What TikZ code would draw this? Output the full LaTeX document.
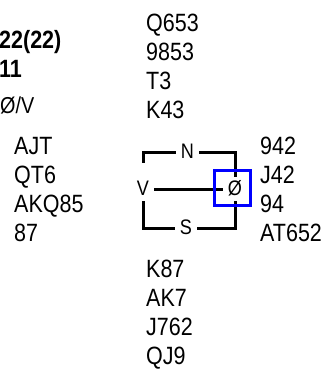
\documentclass[tikz,border=0pt]{standalone}
\usepackage{fontspec}
\setmainfont{Liberation Sans}[FakeStretch=0.86]
\usetikzlibrary{positioning}

\begin{document}
\begin{tikzpicture}[
    x=1pt, y=-1pt,
    hand/.style={anchor=base west, align=left, inner sep=0pt, font=\fontsize{25}{29}\selectfont},
    info/.style={anchor=base west, inner sep=0pt, font=\fontsize{25}{29}\selectfont\bfseries},
    seat/.style={text height=15pt, text depth=3pt, inner xsep=5pt, inner ysep=3pt, font=\fontsize{21}{25}\selectfont},
    dealer/.style={draw=blue, line width=3pt, minimum width=36pt, minimum height=35pt},
    tableline/.style={line width=3pt}
]
\useasboundingbox (0,0) rectangle (328,374);

% Board info
\node[info] (board) at (-1,49) {22(22)};
\node[info] (deal) at (-1,78) {11};
\node[hand, font=\fontsize{23}{27}\selectfont] (vul) at (0,114) {Ø/V};

% Hands (base = last line)
\node[hand] (north) at (146,119) {Q653\\9853\\T3\\K43};
\node[hand] (south) at (146,364) {K87\\AK7\\J762\\QJ9};
\node[hand] (east) at (260,241) {942\\J42\\94\\AT652};
\node[hand] (west) at (14,241) {AJT\\QT6\\AKQ85\\87};

% Table
\node[seat] (n) at (187.5,152) {N};
\node[seat] (s) at (186,228) {S};
\node[seat] (w) at (143,189) {V};
\node[seat] (e) at (235,189) {Ø};

\draw[tableline] (n) -| ([yshift=14pt]w.north);
\draw[tableline] (n) -| (e);
\draw[tableline] (s) -| (w);
\draw[tableline] (s) -| (e);
\draw[tableline] (w) -- (e);

% Dealer
\node[dealer] (dlr) at (232.5,188) {};

\end{tikzpicture}
\end{document}
